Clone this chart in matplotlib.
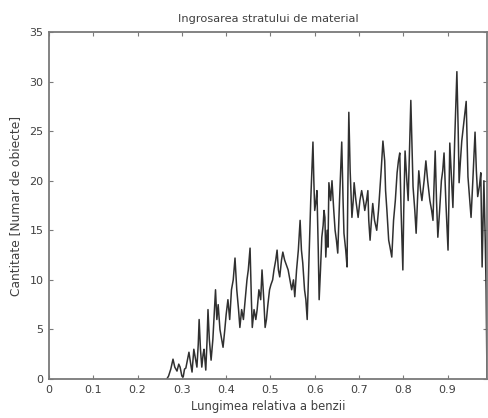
import matplotlib
matplotlib.use("Agg")
import matplotlib.pyplot as plt

title = "Ingrosarea stratului de material"
xlabel = "Lungimea relativa a benzii"
ylabel = "Cantitate [Numar de obiecte]"

xticks = [0, 0.1, 0.2, 0.3, 0.4, 0.5, 0.6, 0.7, 0.8, 0.9]
xticklabels = ["0", "0.1", "0.2", "0.3", "0.4", "0.5", "0.6", "0.7", "0.8", "0.9"]
yticks = [0, 5, 10, 15, 20, 25, 30, 35]

lungime = [
    0.266, 0.270, 0.275, 0.280, 0.284, 0.289, 0.293, 0.296, 0.300, 0.303,
    0.306, 0.309, 0.313, 0.316, 0.320, 0.323, 0.327, 0.331, 0.334, 0.337,
    0.339, 0.342, 0.345, 0.348, 0.350, 0.354, 0.357, 0.359, 0.362, 0.366,
    0.370, 0.373, 0.376, 0.379, 0.382, 0.386, 0.390, 0.393, 0.397, 0.400,
    0.404, 0.408, 0.412, 0.416, 0.420, 0.424, 0.428, 0.431, 0.435, 0.439,
    0.443, 0.447, 0.450, 0.454, 0.457, 0.459, 0.463, 0.467, 0.470, 0.474,
    0.478, 0.481, 0.485, 0.488, 0.491, 0.494, 0.498, 0.501, 0.505, 0.508,
    0.512, 0.515, 0.518, 0.521, 0.525, 0.528, 0.532, 0.536, 0.540, 0.544,
    0.548, 0.552, 0.555, 0.559, 0.563, 0.567, 0.570, 0.573, 0.577, 0.580,
    0.583, 0.587, 0.591, 0.596, 0.598, 0.600, 0.603, 0.605, 0.608, 0.610,
    0.613, 0.616, 0.619, 0.621, 0.623, 0.625, 0.628, 0.630, 0.632, 0.636,
    0.639, 0.643, 0.646, 0.649, 0.652, 0.656, 0.661, 0.664, 0.666, 0.670,
    0.673, 0.675, 0.677, 0.680, 0.684, 0.687, 0.689, 0.693, 0.698, 0.702,
    0.706, 0.710, 0.713, 0.717, 0.720, 0.722, 0.725, 0.728, 0.731, 0.735,
    0.740, 0.744, 0.747, 0.750, 0.754, 0.758, 0.760, 0.763, 0.767, 0.770,
    0.774, 0.778, 0.782, 0.786, 0.789, 0.792, 0.795, 0.799, 0.801, 0.804,
    0.808, 0.811, 0.814, 0.817, 0.820, 0.822, 0.826, 0.829, 0.832, 0.835,
    0.839, 0.842, 0.847, 0.851, 0.855, 0.860, 0.864, 0.867, 0.869, 0.872,
    0.875, 0.878, 0.882, 0.886, 0.889, 0.892, 0.896, 0.901, 0.903, 0.905,
    0.909, 0.912, 0.916, 0.921, 0.924, 0.926, 0.929, 0.932, 0.937, 0.942,
    0.944, 0.946, 0.950, 0.953, 0.957, 0.962, 0.965, 0.968, 0.972, 0.975,
    0.978, 0.982, 0.985, 0.987, 0.988, 0.989,
]

cantitate = [
    0.0, 0.3, 1.0, 2.0, 1.2, 0.8, 1.5, 1.2, 0.3, 0.2,
    1.0, 1.1, 2.0, 2.7, 1.5, 0.7, 3.0, 2.0, 1.2, 3.5,
    6.0, 3.0, 1.2, 2.5, 3.0, 0.9, 4.0, 7.0, 4.0, 1.9,
    4.0, 6.5, 9.0, 6.0, 7.5, 5.0, 4.0, 3.2, 5.0, 6.5,
    8.0, 6.0, 9.0, 10.0, 12.2, 9.0, 7.0, 5.2, 7.0, 6.0,
    8.0, 10.0, 11.0, 13.2, 8.0, 5.2, 7.0, 6.0, 7.0, 9.0,
    8.0, 11.0, 8.0, 5.2, 6.0, 7.4, 9.0, 9.5, 10.0, 11.0,
    12.0, 13.0, 11.0, 10.3, 12.0, 12.8, 12.0, 11.5, 11.0, 10.0,
    9.0, 10.0, 8.3, 11.0, 13.0, 16.0, 13.0, 11.7, 9.0, 8.0,
    6.0, 12.0, 18.0, 23.9, 20.0, 17.0, 18.0, 19.0, 13.0, 8.0,
    11.0, 14.3, 15.5, 17.0, 16.3, 12.3, 15.0, 13.3, 19.8, 18.0,
    20.0, 17.0, 15.0, 14.0, 12.7, 18.0, 23.9, 18.0, 14.7, 13.0,
    11.3, 20.0, 26.9, 21.0, 16.3, 18.0, 19.8, 18.0, 16.3, 18.0,
    19.0, 18.0, 17.0, 18.0, 19.0, 16.0, 14.0, 16.0, 17.7, 16.0,
    15.0, 17.0, 19.0, 21.0, 24.0, 22.0, 19.0, 17.0, 14.0, 13.3,
    12.3, 16.0, 18.0, 20.8, 22.0, 22.8, 17.0, 11.0, 17.0, 23.0,
    20.0, 18.0, 23.0, 28.1, 23.0, 19.4, 17.0, 14.7, 18.0, 21.0,
    19.0, 18.0, 20.0, 22.0, 20.0, 18.0, 17.0, 16.0, 19.0, 23.0,
    18.0, 14.3, 17.0, 20.0, 21.0, 22.8, 18.0, 13.0, 18.0, 23.8,
    20.0, 17.3, 24.0, 31.0, 25.0, 19.8, 22.0, 24.0, 26.0, 28.0,
    24.0, 20.4, 18.0, 16.3, 20.0, 24.9, 21.0, 18.4, 19.5, 20.8,
    11.3, 20.0, 14.0, 9.0, 5.0, 0.0,
]

W, H = 488, 418
fig = plt.figure(figsize=(W / 100, H / 100), dpi=100)
fig.patch.set_facecolor("white")
ax = fig.add_axes([49 / W, 1 - 379 / H, (487 - 49) / W, (379 - 32) / H])

txt_color = "#404040"
font = "DejaVu Sans"

ax.plot(lungime, cantitate, color="#303030", linewidth=1.1)

ax.set_xlim(0, 0.989)
ax.set_ylim(0, 35)
ax.set_xticks(xticks)
ax.set_xticklabels(xticklabels)
ax.set_yticks(yticks)

for s in ax.spines.values():
    s.set_color("#7a7a7a")
    s.set_linewidth(1.3)

ax.tick_params(direction="in", length=3, width=0.8, color="#7a7a7a",
               top=True, right=True, labelsize=8, labelcolor=txt_color, pad=4)
for lab in ax.get_xticklabels() + ax.get_yticklabels():
    lab.set_fontfamily(font)

ax.set_title(title, fontsize=8.2, color=txt_color, family=font, pad=7)
ax.set_xlabel(xlabel, fontsize=8.4, color=txt_color, family=font, labelpad=4)
ax.set_ylabel(ylabel, fontsize=8.8, color=txt_color, family=font, labelpad=5)

fig.savefig("out.png", dpi=100, facecolor="white")
